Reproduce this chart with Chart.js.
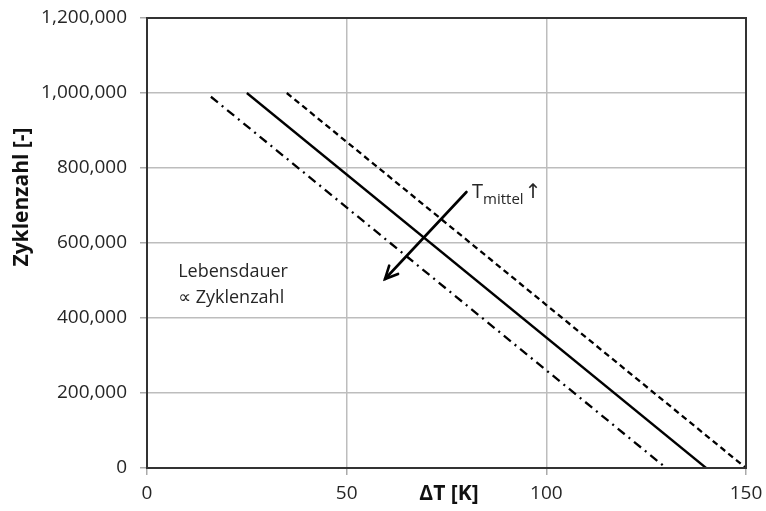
<!DOCTYPE html>
<html>
<head>
<meta charset="utf-8">
<script src="https://cdn.jsdelivr.net/npm/chart.js@4/dist/chart.umd.min.js"></script>
<style>
  html, body { margin: 0; padding: 0; background: #fff; }
  #wrap { width: 766px; height: 511px; position: relative; }
</style>
</head>
<body>
<div id="wrap"><canvas id="c" width="766" height="511"></canvas></div>
<script>
// ---- data ----
const xTicks = [0, 50, 100, 150];
const yTicks = [0, 200000, 400000, 600000, 800000, 1000000, 1200000];

const dashDotX = [16, 130];
const dashDotY = [990000, 0];
const solidX = [25, 140];
const solidY = [1000000, 0];
const dashedX = [35, 150];
const dashedY = [1000000, 0];

const arrowFrom = [80, 736000];
const arrowTo = [59.6, 504000];

const xTitle = "ΔT [K]";
const yTitle = "Zyklenzahl [-]";
const noteLines = ["Lebensdauer", "∝ Zyklenzahl"];
const tempLabel = ["T", "mittel", "↑"];

const toPts = (xs, ys) => xs.map((x, i) => ({ x: x, y: ys[i] }));

const FONT = "'Open Sans', 'DejaVu Sans', sans-serif";
const TXT = '#262626';

const decor = {
  id: 'decor',
  afterDatasetsDraw(chart) {
    const ctx = chart.ctx;
    const a = chart.chartArea;
    const xs = chart.scales.x, ys = chart.scales.y;
    ctx.save();
    // frame
    ctx.strokeStyle = '#333';
    ctx.lineWidth = 2;
    ctx.strokeRect(a.left, a.top, a.right - a.left, a.bottom - a.top);

    // arrow
    const x1 = xs.getPixelForValue(arrowFrom[0]), y1 = ys.getPixelForValue(arrowFrom[1]);
    const x2 = xs.getPixelForValue(arrowTo[0]), y2 = ys.getPixelForValue(arrowTo[1]);
    ctx.strokeStyle = '#000';
    ctx.lineWidth = 2.6;
    ctx.lineCap = 'round';
    ctx.beginPath(); ctx.moveTo(x1, y1); ctx.lineTo(x2, y2); ctx.stroke();
    const ang = Math.atan2(y2 - y1, x2 - x1);
    const hl = 14, ha = 0.45;
    ctx.beginPath();
    ctx.moveTo(x2 - hl * Math.cos(ang - ha), y2 - hl * Math.sin(ang - ha));
    ctx.lineTo(x2, y2);
    ctx.lineTo(x2 - hl * Math.cos(ang + ha), y2 - hl * Math.sin(ang + ha));
    ctx.stroke();

    // T_mittel label
    ctx.fillStyle = TXT;
    ctx.textBaseline = 'alphabetic';
    ctx.textAlign = 'left';
    const tx = xs.getPixelForValue(81.4), ty = ys.getPixelForValue(719000);
    ctx.font = "20px " + FONT;
    ctx.fillText(tempLabel[0], tx, ty);
    const tw = ctx.measureText(tempLabel[0]).width;
    ctx.font = "15px " + FONT;
    ctx.fillText(tempLabel[1], tx + tw, ty + 6);
    const sw = ctx.measureText(tempLabel[1]).width;
    ctx.font = "20px " + FONT;
    ctx.fillText(tempLabel[2], tx + tw + sw + 1, ty);

    // Lebensdauer note
    const nx = xs.getPixelForValue(7.8);
    ctx.font = "18px " + FONT;
    ctx.fillText(noteLines[0], nx, ys.getPixelForValue(510000));
    ctx.fillText(noteLines[1], nx, ys.getPixelForValue(440000));

    // axis titles
    ctx.font = "bold 21px " + FONT;
    ctx.fillStyle = '#111';
    ctx.textAlign = 'center';
    ctx.textBaseline = 'middle';
    ctx.fillText(xTitle, 449, 494);
    ctx.translate(22, 197);
    ctx.rotate(-Math.PI / 2);
    ctx.fillText(yTitle, 0, 0);
    ctx.restore();
  }
};

const lineDs = (label, pts, dash) => ({
  label: label,
  data: pts,
  showLine: true,
  borderColor: '#000',
  borderWidth: 2.3,
  borderDash: dash,
  pointRadius: 0,
  fill: false,
  tension: 0
});

new Chart(document.getElementById('c'), {
  type: 'scatter',
  data: {
    datasets: [
      lineDs('dashdot', toPts(dashDotX, dashDotY), [9, 5, 2, 5]),
      lineDs('solid', toPts(solidX, solidY), []),
      lineDs('dashed', toPts(dashedX, dashedY), [6, 4])
    ]
  },
  options: {
    responsive: false,
    animation: false,
    devicePixelRatio: 1,
    layout: { padding: { top: 18, right: 20, left: 0, bottom: 0 } },
    plugins: { legend: { display: false }, tooltip: { enabled: false } },
    scales: {
      x: {
        type: 'linear',
        min: 0, max: 150,
        afterBuildTicks: s => { s.ticks = xTicks.map(v => ({ value: v })); },
        afterFit: s => { s.height = 43; s.paddingLeft = 0; s.paddingRight = 0; },
        grid: { color: '#bdbdbd', lineWidth: 1.5, tickLength: 7, tickColor: '#aaa', drawTicks: true },
        border: { display: false },
        ticks: { color: TXT, font: { family: FONT, size: 19 }, padding: 7, maxRotation: 0 }
      },
      y: {
        type: 'linear',
        min: 0, max: 1200000,
        afterBuildTicks: s => { s.ticks = yTicks.map(v => ({ value: v })); },
        afterFit: s => { s.width = 147; s.paddingTop = 0; s.paddingBottom = 0; },
        grid: { color: '#bdbdbd', lineWidth: 1.5, tickLength: 7, tickColor: '#aaa', drawTicks: true },
        border: { display: false },
        ticks: {
          color: TXT, font: { family: FONT, size: 19 }, padding: 13,
          callback: v => v.toLocaleString('en-US')
        }
      }
    }
  },
  plugins: [decor]
});
</script>
</body>
</html>
